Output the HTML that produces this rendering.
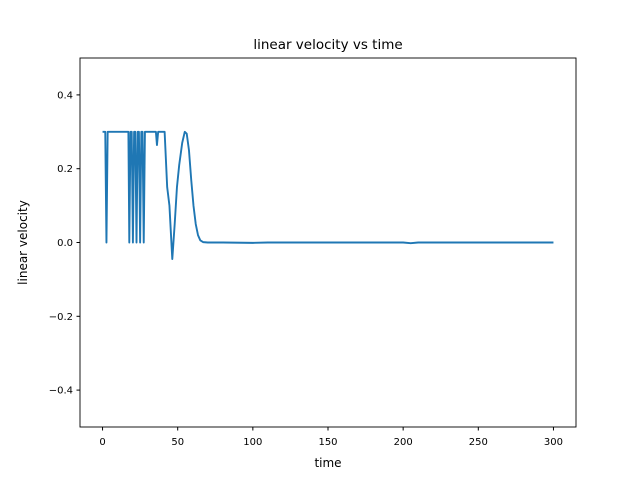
<!DOCTYPE html>
<html><head><meta charset="utf-8"><style>
body{margin:0;background:#fff;}
svg{display:block;font-family:"DejaVu Sans","Liberation Sans",sans-serif;}
</style></head><body>
<svg id="c" width="640" height="480">
<rect width="640" height="480" fill="#fff"/>
<text x="328" y="49" text-anchor="middle" font-size="13.5">linear velocity vs time</text>
<text x="328" y="467" text-anchor="middle" font-size="12">time</text>
<text transform="translate(27,242.5) rotate(-90)" text-anchor="middle" font-size="12">linear velocity</text>
<g id="ticks"></g>
<path id="line" fill="none" stroke="#1f77b4" stroke-width="1.9" stroke-linejoin="round"/>
<rect x="80" y="58" width="496" height="369" fill="none" stroke="#000" stroke-width="0.9"/>
</svg>
<script>
const times=[0,1,1.8,2.6,3.4,4,17.2,17.8,18.6,19.4,20.2,21,21.8,22.6,23.4,24.2,25,25.8,26.6,27.4,28.2,35.5,36.2,37,41.3,43,44.5,46.4,48,49.5,51,53,54.7,56,57.5,59,60.5,62,63.5,65,67,70,80,100,110,150,200,205,210,250,300];
const values=[0.3,0.3,0.3,0,0.3,0.3,0.3,0,0.3,0.3,0,0.3,0.3,0,0.3,0.3,0,0.3,0.3,0,0.3,0.3,0.264,0.3,0.3,0.15,0.1,-0.045,0.05,0.15,0.21,0.27,0.3,0.295,0.25,0.17,0.1,0.05,0.02,0.006,0.001,0,0,-0.001,0,0,0,-0.002,0,0,0];
const xTicks=[0,50,100,150,200,250,300];
const yTicks=[-0.4,-0.2,0.0,0.2,0.4];
const yTickLabels=["\u22120.4","\u22120.2","0.0","0.2","0.4"];
const X=v=>80+(v+15)/330*496;
const Y=v=>242.5-v*369;
const g=document.getElementById('ticks');
const NS="http://www.w3.org/2000/svg";
xTicks.forEach(t=>{
  const l=document.createElementNS(NS,'line');
  l.setAttribute('x1',X(t));l.setAttribute('x2',X(t));l.setAttribute('y1',427);l.setAttribute('y2',430.5);l.setAttribute('stroke','#000');
  
  
  g.appendChild(l);
  const tx=document.createElementNS(NS,'text');
  tx.setAttribute('x',X(t));tx.setAttribute('y',445);tx.setAttribute('text-anchor','middle');tx.setAttribute('font-size','10');
  tx.textContent=t;
  
  
  g.appendChild(tx);
});
yTicks.forEach((t,i)=>{
  const l=document.createElementNS(NS,'line');
  l.setAttribute('x1',76.5);l.setAttribute('x2',80);l.setAttribute('y1',Y(t));l.setAttribute('y2',Y(t));l.setAttribute('stroke','#000');
  
  
  g.appendChild(l);
  const tx=document.createElementNS(NS,'text');
  tx.setAttribute('x',73);tx.setAttribute('y',Y(t)+3.5);tx.setAttribute('text-anchor','end');tx.setAttribute('font-size','10');
  tx.textContent=yTickLabels[i];
  
  
  g.appendChild(tx);
});
document.getElementById('line').setAttribute('d',times.map((t,i)=>(i?'L':'M')+X(t).toFixed(2)+','+Y(values[i]).toFixed(2)).join(''));
</script>
</body></html>
